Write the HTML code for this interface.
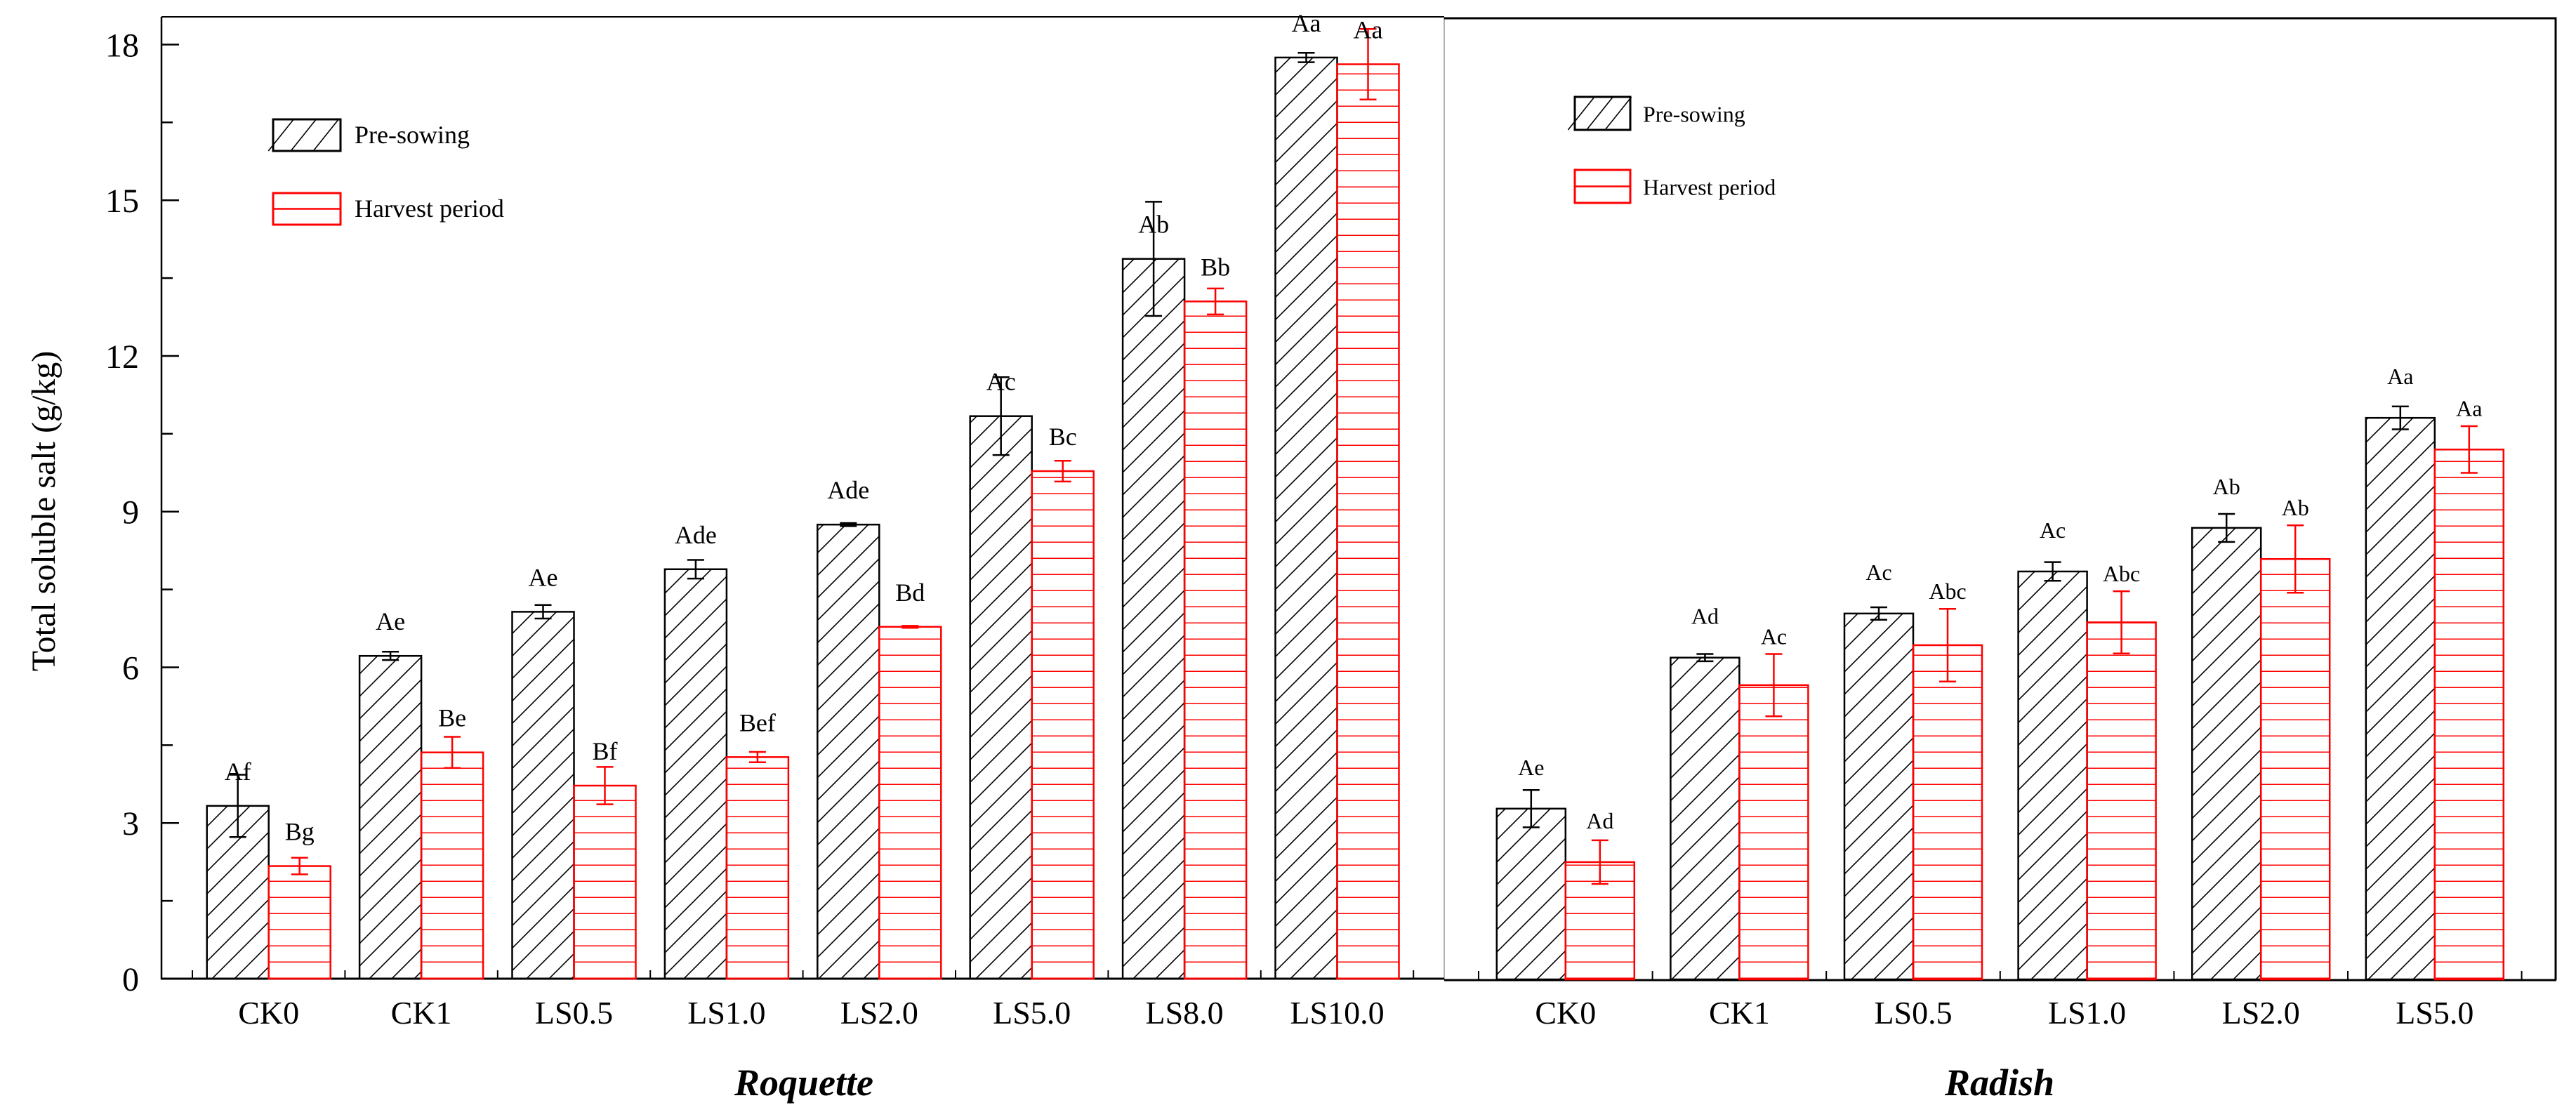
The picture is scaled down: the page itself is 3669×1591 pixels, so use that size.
<!DOCTYPE html>
<html><head><meta charset="utf-8">
<style>
html,body{margin:0;padding:0;background:#fff;}
svg{display:block;font-family:"Liberation Serif",serif;}
</style></head>
<body>
<svg id="chart" width="3669" height="1591" viewBox="0 0 3669 1591" xmlns="http://www.w3.org/2000/svg">
<defs>
<pattern id="hatch" patternUnits="userSpaceOnUse" width="32" height="32">
<path d="M-8,8 L8,-8 M0,32 L32,0 M24,40 L40,24" stroke="#000" stroke-width="1.6"/>
</pattern>
<pattern id="hlines" patternUnits="userSpaceOnUse" x="0" y="1394" width="40" height="23">
<rect x="0" y="21.5" width="40" height="2.5" fill="#ff0000"/>
</pattern>
</defs>
<g id="root"></g>
</svg>
<script>
// ---- data ----
const roqCats = ["CK0","CK1","LS0.5","LS1.0","LS2.0","LS5.0","LS8.0","LS10.0"];
const roqPre = [3.33,6.22,7.07,7.89,8.75,10.84,13.87,17.75];
const roqPreErr = [0.6,0.08,0.13,0.18,0.03,0.75,1.1,0.09];
const roqHar = [2.17,4.36,3.72,4.27,6.78,9.78,13.05,17.62];
const roqHarErr = [0.16,0.3,0.36,0.1,0.02,0.2,0.25,0.68];
const roqPreLab = ["Af","Ae","Ae","Ade","Ade","Ac","Ab","Aa"];
const roqHarLab = ["Bg","Be","Bf","Bef","Bd","Bc","Bb","Aa"];

const radCats = ["CK0","CK1","LS0.5","LS1.0","LS2.0","LS5.0"];
const radPre = [3.29,6.2,7.05,7.86,8.7,10.82];
const radPreErr = [0.36,0.07,0.12,0.18,0.27,0.22];
const radHar = [2.26,5.67,6.44,6.88,8.1,10.21];
const radHarErr = [0.42,0.6,0.7,0.6,0.65,0.45];
const radPreLab = ["Ae","Ad","Ac","Ac","Ab","Aa"];
const radHarLab = ["Ad","Ac","Abc","Abc","Ab","Aa"];

const yTicks = [0,3,6,9,12,15,18];

// ---- layout ----
const NS = "http://www.w3.org/2000/svg";
const root = document.getElementById('root');
const Y0 = 1394, YPU = 73.92;
const y = v => Y0 - v*YPU;
function el(tag, attrs, parent){
  const e = document.createElementNS(NS, tag);
  for (const k in attrs) e.setAttribute(k, attrs[k]);
  (parent||root).appendChild(e);
  return e;
}
function txt(s, attrs, parent){ const t = el('text', attrs, parent); t.textContent = s; return t; }

let f;
f = el('line',{x1:230,y1:24,x2:2057,y2:24,stroke:'#000','stroke-width':2});


f = el('line',{x1:230,y1:24,x2:230,y2:1395,stroke:'#000','stroke-width':2.5});


f = el('line',{x1:2057,y1:24,x2:2057,y2:1395,stroke:'#999','stroke-width':1.5});


f = el('polyline',{points:'2057,26 3640,26 3640,1396',fill:'none',stroke:'#000','stroke-width':3});


f = el('line',{x1:229,y1:1394,x2:2057,y2:1394,stroke:'#000','stroke-width':3});


f = el('line',{x1:2057,y1:1396,x2:3641,y2:1396,stroke:'#000','stroke-width':3});



yTicks.forEach((v,i)=>{
  const t = el('line',{x1:230,y1:y(v),x2:255,y2:y(v),stroke:'#000','stroke-width':2.5});
  
  
  const l = txt(String(v),{x:198,y:y(v)+17,'text-anchor':'end','font-size':48});
  
  
  if (i < yTicks.length-1){
    const m = el('line',{x1:230,y1:y(v+1.5),x2:246,y2:y(v+1.5),stroke:'#000','stroke-width':2.5});
    
    
  }
});
const yt = txt('Total soluble salt (g/kg)',{x:0,y:0,'text-anchor':'middle','font-size':48,transform:'translate(78,728) rotate(-90)'});



function panel(name, cats, pre, preErr, har, harErr, preLab, harLab, x0, step, bw, base, labSize, labOff, avoidErr, title, titleX){
  const yy = v => base - v*YPU;
  const g = el('g',{});
  
  
  for (let k=0;k<=cats.length;k++){
    const tx = x0 + k*step;
    const tk = el('line',{x1:tx,y1:base,x2:tx,y2:base-12,stroke:'#000','stroke-width':2},g);
    
    
  }
  cats.forEach((c,i)=>{
    const cx = x0 + step*(i+0.5);
    const pb = el('rect',{x:cx-bw,y:yy(pre[i]),width:bw,height:pre[i]*YPU,fill:'url(#hatch)',stroke:'#000','stroke-width':2.5},g);
    
    
    const hb = el('rect',{x:cx,y:yy(har[i]),width:bw,height:har[i]*YPU,fill:'url(#hlines)',stroke:'#ff0000','stroke-width':2.5},g);
    
    
    [[cx-bw/2,pre[i],preErr[i],'#000','pre-sowing'],[cx+bw/2,har[i],harErr[i],'#ff0000','harvest']].forEach(([ex,v,e,col,nm])=>{
      const eb = el('path',{d:`M${ex},${yy(v+e)}V${yy(v-e)}M${ex-12},${yy(v+e)}h24M${ex-12},${yy(v-e)}h24`,stroke:col,'stroke-width':2.5,fill:'none'},g);
      
      
    });
    let pTop = yy(pre[i])-labOff, hTop = yy(har[i])-labOff;
    if (avoidErr){
      pTop = Math.min(pTop, yy(pre[i]+preErr[i])-14);
      hTop = Math.min(hTop, yy(har[i]+harErr[i])-14);
    }
    const pl = txt(preLab[i],{x:cx-bw/2,y:pTop,'text-anchor':'middle','font-size':labSize},g);
    
    
    const hl = txt(harLab[i],{x:cx+bw/2,y:hTop,'text-anchor':'middle','font-size':labSize},g);
    
    
    const xl = txt(c,{x:cx,y:1458,'text-anchor':'middle','font-size':46},g);
    
    
  });
  const tt = txt(title,{x:titleX,y:1560,'text-anchor':'middle','font-size':54,'font-weight':'bold','font-style':'italic'},g);
  
  
}
panel('roquette', roqCats, roqPre, roqPreErr, roqHar, roqHarErr, roqPreLab, roqHarLab, 274, 217.4, 88, 1394, 36, 37, false, 'Roquette', 1145);
panel('radish', radCats, radPre, radPreErr, radHar, radHarErr, radPreLab, radHarLab, 2106, 247.6, 98, 1395, 32, 48, true, 'Radish', 2848);

function legend(name, bx, by1, by2, bw, bh, tx, fs){
  const g = el('g',{});
  
  
  const r1 = el('rect',{x:bx,y:by1,width:bw,height:bh,fill:'#fff',stroke:'#000','stroke-width':3},g);
  
  
  const n = 3;
  for (let k=0;k<n;k++){
    const sx = bx + bw*(k+0.35)/n;
    el('line',{x1:sx-bh*0.4,y1:by1+bh,x2:sx+bh*0.4,y2:by1,stroke:'#000','stroke-width':1.6},g);
  }
  const t1 = txt('Pre-sowing',{x:tx,y:by1+bh*0.75,'font-size':fs},g);
  
  
  const r2 = el('rect',{x:bx,y:by2,width:bw,height:bh,fill:'#fff',stroke:'#ff0000','stroke-width':3},g);
  
  
  el('line',{x1:bx,y1:by2+bh/2,x2:bx+bw,y2:by2+bh/2,stroke:'#ff0000','stroke-width':2.5},g);
  const t2 = txt('Harvest period',{x:tx,y:by2+bh*0.75,'font-size':fs},g);
  
  
}
legend('legend-roquette', 389, 170, 275, 96, 45, 505, 36);
legend('legend-radish', 2243, 138, 242, 79, 47, 2340, 32);
</script>
</body></html>
